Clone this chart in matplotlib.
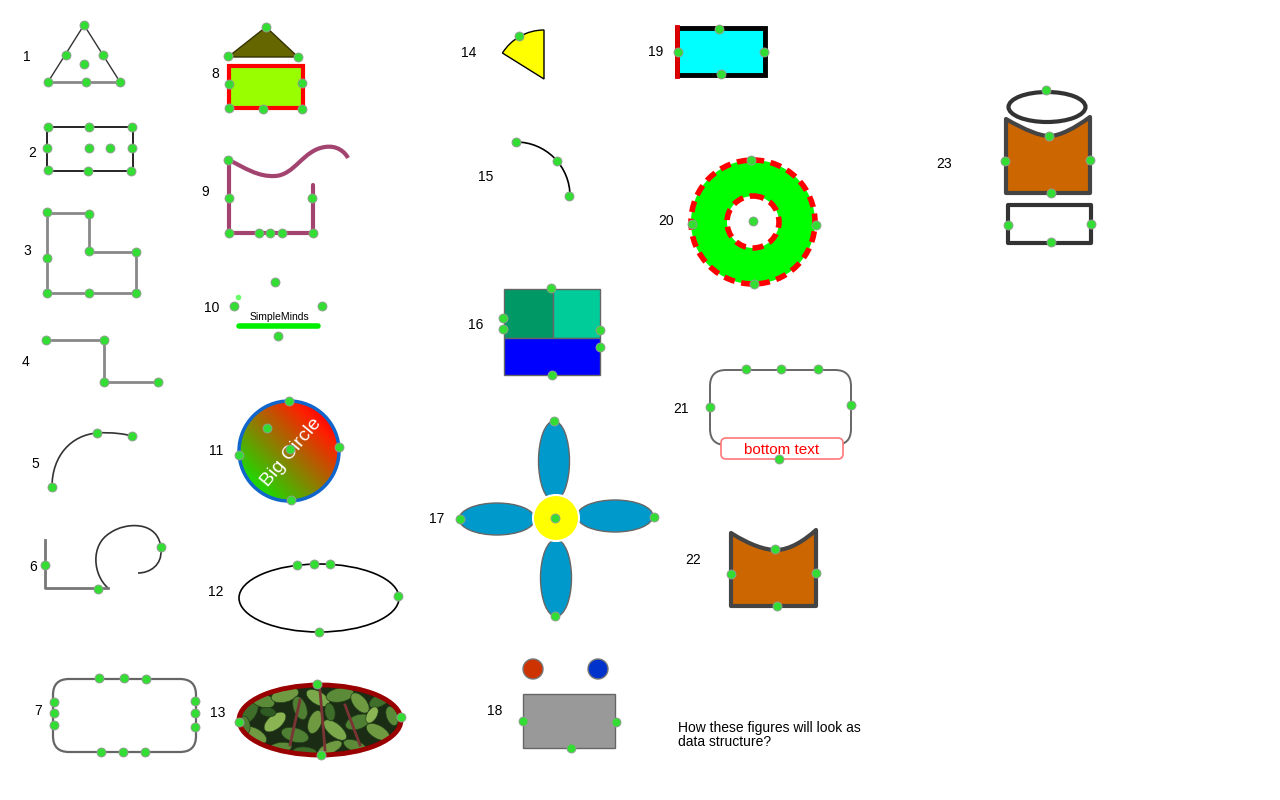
import matplotlib
matplotlib.use('Agg')
import matplotlib.pyplot as plt
import numpy as np
from matplotlib.path import Path
from matplotlib.patches import (Polygon, Rectangle, Circle, Ellipse, Wedge,
                                FancyBboxPatch, PathPatch, Arc)

plt.rcParams['font.family'] = ['Liberation Sans', 'DejaVu Sans']

# ---- labels -----------------------------------------------------------------
labels = [str(i) for i in range(1, 24)]
label_xy = [(27, 57), (32, 153), (27, 251), (25, 362), (35, 464), (33, 567),
            (38, 711), (215, 74), (205, 192), (212, 308), (216, 451),
            (216, 592), (218, 713), (469, 53), (486, 177), (476, 325),
            (437, 519), (495, 711), (656, 52), (666, 221), (681, 409),
            (693, 560), (944, 164)]

# ---- shape outlines ---------------------------------------------------------
tri1 = [(84, 25), (48, 82), (120, 82)]
rect2 = (47, 127, 86, 44)                       # x, y, w, h
poly3 = [(47, 213), (89, 213), (89, 252), (136, 252), (136, 293), (47, 293)]
line4 = [(46, 340), (104, 340), (104, 382), (158, 382)]
curve5 = [(52, 487), (52, 455), (72, 435), (97, 433), (112, 432), (125, 434), (132, 436)]
line6 = [(45, 540), (45, 588), (108, 588)]
curve6 = [(108, 588), (93, 575), (90, 545), (110, 533), (125, 522), (160, 520),
          (161, 550), (162, 565), (150, 573), (138, 573)]
rrect7 = (53, 679, 143, 73)
tri8 = [(266, 27), (228, 57), (298, 57)]
rect8 = (229, 66, 74, 42)
line9 = [(229, 160), (229, 233), (313, 233), (313, 185)]
curve9 = [(229, 160), (245, 168), (258, 177), (275, 176), (295, 175), (303, 150),
          (325, 147), (337, 145), (345, 152), (348, 158)]
bar10 = [(239, 326), (318, 326)]
circle11 = (289, 451, 50)
ellipse12 = (319, 598, 160, 68)
ellipse13 = (320, 720, 162, 70)
wedge14 = (544, 79, 49, 90, 148)                # cx, cy, r, theta1, theta2
arc15 = (516, 196, 54)
rect16 = (504, 289, 96, 86)
split16 = (553, 338)
petals17 = [(554, 461, 31, 80), (556, 578, 31, 77), (497, 519, 76, 32), (615, 516, 76, 32)]
centre17 = (556, 518, 23)
balls18 = [(533, 669, 10, '#cc3300'), (598, 669, 10, '#0033cc')]
rect18 = (523, 694, 92, 54)
rect19 = (677, 28, 88, 47)
donut20 = (753, 222, 62, 26)
rrect21 = (710, 370, 141, 75)
tag21 = (721, 438, 122, 21)
cup22 = [(731, 533), (750, 545), (765, 550), (776, 550), (790, 550), (805, 540),
         (816, 530), (816, 606), (731, 606)]
lid23 = (1047, 107, 77, 30)
cup23 = [(1006, 119), (1025, 130), (1040, 136), (1049, 136), (1060, 136), (1075, 128),
         (1090, 117), (1090, 193), (1006, 193)]
base23 = (1008, 205, 83, 38)

# leaves of the texture inside figure 13: x, y, w, h, angle, colour
leaves13 = [(250, 712, 24, 13, -60, '#3f6e2a'), (262, 700, 26, 14, 20, '#5b8a38'),
            (285, 695, 28, 14, -15, '#6f9a42'), (300, 708, 24, 13, 70, '#4f7f32'),
            (318, 698, 26, 13, 30, '#7aa84a'), (340, 695, 28, 14, -10, '#5b8a38'),
            (360, 703, 24, 13, 50, '#6f9a42'), (380, 700, 24, 12, -30, '#3f6e2a'),
            (392, 716, 20, 11, 70, '#5b8a38'), (255, 735, 26, 13, 30, '#6f9a42'),
            (275, 722, 26, 14, -40, '#8ab552'), (295, 735, 28, 14, 15, '#4f7f32'),
            (315, 722, 24, 13, -70, '#6f9a42'), (335, 730, 28, 13, 40, '#7aa84a'),
            (358, 722, 26, 14, -20, '#4f7f32'), (378, 732, 26, 13, 30, '#6f9a42'),
            (280, 748, 24, 11, -10, '#5b8a38'), (305, 752, 24, 10, 5, '#3f6e2a'),
            (330, 748, 26, 11, -25, '#6f9a42'), (355, 746, 24, 11, 20, '#5b8a38'),
            (372, 715, 18, 10, -60, '#8ab552'), (330, 712, 18, 10, 80, '#3f6e2a'),
            (268, 712, 16, 9, 10, '#2f5a22'), (245, 725, 18, 10, 80, '#4f7f32')]
stems13 = [[(320, 690), (325, 750)], [(300, 700), (290, 745)], [(345, 705), (360, 745)]]

# ---- handle points ----------------------------------------------------------
dots = [
    (84, 25), (66, 55), (103, 55), (48, 82), (86, 82), (120, 82), (84, 64),
    (48, 127), (89, 127), (132, 127), (47, 148), (89, 148), (110, 148), (132, 148),
    (48, 170), (88, 171), (131, 171),
    (47, 212), (89, 214), (89, 251), (136, 252), (47, 258), (47, 293), (89, 293), (136, 293),
    (46, 340), (104, 340), (104, 382), (158, 382),
    (52, 487), (97, 433), (132, 436),
    (45, 565), (98, 589), (161, 547),
    (99, 678), (124, 678), (146, 679), (101, 752), (123, 752), (145, 752),
    (54, 702), (54, 713), (54, 725), (195, 701), (195, 713), (195, 727),
    (266, 27), (228, 56), (298, 57), (229, 84), (302, 83), (229, 108), (263, 109), (302, 109),
    (228, 160), (229, 198), (312, 198), (229, 233), (259, 233), (270, 233), (282, 233), (313, 233),
    (275, 282), (234, 306), (322, 306), (278, 336),
    (289, 401), (339, 447), (239, 455), (291, 500), (267, 428), (290, 449),
    (297, 565), (314, 564), (330, 564), (398, 596), (319, 632),
    (317, 684), (239, 722), (401, 717), (321, 755),
    (519, 36),
    (516, 142), (557, 161), (569, 196),
    (551, 288), (503, 318), (503, 329), (600, 330), (600, 347), (552, 375),
    (554, 421), (555, 616), (460, 519), (654, 517), (555, 518),
    (523, 721), (616, 722), (571, 748),
    (719, 29), (678, 52), (764, 52), (721, 74),
    (751, 160), (692, 224), (816, 225), (754, 284), (753, 221),
    (746, 369), (781, 369), (818, 369), (710, 407), (851, 405), (779, 459),
    (775, 549), (731, 574), (816, 573), (777, 606),
    (1046, 90), (1049, 136), (1005, 161), (1090, 160), (1051, 193),
    (1008, 225), (1091, 224), (1051, 242),
]


def bezier(pts):
    codes = [Path.MOVETO] + [Path.CURVE4] * (len(pts) - 1)
    return Path(pts, codes)


def closed_bezier(pts):
    # curve through first 7 points, then straight edges back
    codes = [Path.MOVETO] + [Path.CURVE4] * 6 + [Path.LINETO] * (len(pts) - 7) + [Path.CLOSEPOLY]
    return Path(list(pts) + [pts[0]], codes)


fig = plt.figure(figsize=(12.8, 8), dpi=100)
ax = fig.add_axes([0, 0, 1, 1])
ax.set_xlim(0, 1280)
ax.set_ylim(800, 0)
ax.axis('off')

# 1 triangle
ax.plot([tri1[1][0], tri1[0][0], tri1[2][0]], [tri1[1][1], tri1[0][1], tri1[2][1]], color='#333333', lw=1)
ax.plot([tri1[1][0], tri1[2][0]], [tri1[1][1], tri1[2][1]], color='#888888', lw=2)

# 2 rectangle
ax.add_patch(Rectangle(rect2[:2], rect2[2], rect2[3], fill=False, ec='black', lw=1.2))

# 3 L polygon
ax.add_patch(Polygon(poly3, closed=True, fill=False, ec='#888888', lw=2))

# 4 step line
ax.plot(*zip(*line4), color='#888888', lw=2)

# 5 curve
ax.add_patch(PathPatch(bezier(curve5), fill=False, ec='#333333', lw=1.2))

# 6 line + curl
ax.plot(*zip(*line6), color='#777777', lw=2)
ax.add_patch(PathPatch(bezier(curve6), fill=False, ec='#333333', lw=1.2))

# 7 rounded rectangle
ax.add_patch(FancyBboxPatch(rrect7[:2], rrect7[2], rrect7[3],
                            boxstyle='round,pad=0,rounding_size=16',
                            fill=False, ec='#666666', lw=1.6))

# 8 house
ax.add_patch(Polygon(tri8, closed=True, fc='#666600', ec='#333300', lw=1))
ax.add_patch(Rectangle(rect8[:2], rect8[2], rect8[3], fc='#99ff00', ec='#ff0000', lw=3))

# 9 thick magenta strokes
ax.plot(*zip(*line9), color='#a3436f', lw=3, solid_capstyle='round')
ax.add_patch(PathPatch(bezier(curve9), fill=False, ec='#a3436f', lw=3))

# 10 SimpleMinds
ax.plot(*zip(*bar10), color='#00ee00', lw=4, solid_capstyle='round')
ax.text(279, 317, 'SimpleMinds', fontsize=7.5, ha='center', va='center')
ax.plot(238, 297, 'o', ms=4, mfc='#66ff66', mec='none')

# 11 gradient circle
cx, cy, r = circle11
clip = Circle((cx, cy), r, transform=ax.transData, fc='none', ec='none')
ax.add_patch(clip)
gx, gy = np.meshgrid(np.linspace(0, 1, 200), np.linspace(0, 1, 200))
t = np.clip((gx + gy - 0.15) / 1.6, 0, 1)  # 0 = bottom-left, 1 = top-right
grad = np.zeros((200, 200, 3))
grad[..., 0] = np.clip(t * 1.15, 0, 1)
grad[..., 1] = np.clip((1 - t) * 0.95, 0, 1)
im = ax.imshow(grad, extent=(cx - r, cx + r, cy + r, cy - r), origin='lower',
               interpolation='bilinear', zorder=2)
im.set_clip_path(clip)
ax.add_patch(Circle((cx, cy), r, fill=False, ec='#1166cc', lw=2.5, zorder=3))
ax.text(cx + 2, cy + 1, 'Big Circle', color='white', fontsize=14, rotation=50,
        ha='center', va='center', rotation_mode='anchor', zorder=4)

# 12 ellipse
ax.add_patch(Ellipse(ellipse12[:2], ellipse12[2], ellipse12[3], fill=False, ec='black', lw=1.2))

# 13 leafy ellipse
e13 = Ellipse(ellipse13[:2], ellipse13[2], ellipse13[3], fc='#1a2c14', ec='none')
ax.add_patch(e13)
for s in stems13:
    ln, = ax.plot(*zip(*s), color='#7a3434', lw=2)
    ln.set_clip_path(e13)
for lx, ly, lw_, lh, ang, col in leaves13:
    leaf = Ellipse((lx, ly), lw_, lh, angle=ang, fc=col, ec='#24401a', lw=0.5)
    ax.add_patch(leaf)
    leaf.set_clip_path(e13)
ax.add_patch(Ellipse(ellipse13[:2], ellipse13[2], ellipse13[3], fill=False, ec='#990000', lw=3.5))

# 14 wedge (y axis is flipped, so mirror the angles)
wx, wy, wr, t1, t2 = wedge14
ax.add_patch(Wedge((wx, wy), wr, -t2, -t1, fc='#ffff00', ec='black', lw=1))

# 15 arc
ax.add_patch(Arc(arc15[:2], 2 * arc15[2], 2 * arc15[2], theta1=-90, theta2=0, ec='black', lw=1.2))

# 16 split square
x16, y16, w16, h16 = rect16
ax.add_patch(Rectangle((x16, y16), split16[0] - x16, split16[1] - y16, fc='#009966', ec='#666666', lw=1))
ax.add_patch(Rectangle((split16[0], y16), x16 + w16 - split16[0], split16[1] - y16, fc='#00cc99', ec='#666666', lw=1))
ax.add_patch(Rectangle((x16, split16[1]), w16, y16 + h16 - split16[1], fc='#0000ff', ec='#666666', lw=1))

# 17 flower
for px, py, pw, ph in petals17:
    ax.add_patch(Ellipse((px, py), pw, ph, fc='#0099cc', ec='#666666', lw=1))
ax.add_patch(Circle(centre17[:2], centre17[2], fc='#ffff00', ec='white', lw=1.5))

# 18 balls and box
for bx, by, br, bc in balls18:
    ax.add_patch(Circle((bx, by), br, fc=bc, ec='#777777', lw=1))
ax.add_patch(Rectangle(rect18[:2], rect18[2], rect18[3], fc='#999999', ec='#666666', lw=1))

# 19 cyan box
x19, y19, w19, h19 = rect19
ax.add_patch(Rectangle((x19, y19), w19, h19, fc='#00ffff', ec='black', lw=3.5))
ax.plot([x19, x19], [y19 - 1, y19 + h19 + 1], color='#dd0000', lw=3.5)

# 20 donut
dx, dy, ro, ri = donut20
ax.add_patch(Wedge((dx, dy), ro, 0, 360, width=ro - ri, fc='#00ff00', ec='none'))
ax.add_patch(Circle((dx, dy), ro, fill=False, ec='#ff0000', lw=4, ls=(0, (2, 1.2))))
ax.add_patch(Circle((dx, dy), ri, fill=False, ec='#ff0000', lw=4, ls=(0, (2, 1.2))))

# 21 rounded box with tag
ax.add_patch(FancyBboxPatch(rrect21[:2], rrect21[2], rrect21[3],
                            boxstyle='round,pad=0,rounding_size=16',
                            fill=False, ec='#666666', lw=1.4))
ax.add_patch(FancyBboxPatch(tag21[:2], tag21[2], tag21[3],
                            boxstyle='round,pad=0,rounding_size=5',
                            fc='white', ec='#ff7777', lw=1.2))
ax.text(tag21[0] + tag21[2] / 2, tag21[1] + tag21[3] / 2 + 1, 'bottom text',
        color='#ff0000', fontsize=11, ha='center', va='center')

# 22 bucket
ax.add_patch(PathPatch(closed_bezier(cup22), fc='#cc6600', ec='#444444', lw=3, joinstyle='round'))

# 23 lid, bucket, base
ax.add_patch(Ellipse(lid23[:2], lid23[2], lid23[3], fill=False, ec='#333333', lw=3))
ax.add_patch(PathPatch(closed_bezier(cup23), fc='#cc6600', ec='#444444', lw=3, joinstyle='round'))
ax.add_patch(Rectangle(base23[:2], base23[2], base23[3], fill=False, ec='#333333', lw=3, joinstyle='round'))

# handle points
ax.plot(*zip(*dots), 'o', ms=6.5, mfc='#33dd33', mec='#999999', mew=0.6, ls='none', zorder=10)

# labels and note
for lab, (lx, ly) in zip(labels, label_xy):
    ax.text(lx, ly, lab, fontsize=10, ha='center', va='center')
ax.text(678, 735, 'How these figures will look as\ndata structure?', fontsize=10,
        ha='left', va='center', linespacing=1.05)

fig.savefig('out.png', dpi=100)
